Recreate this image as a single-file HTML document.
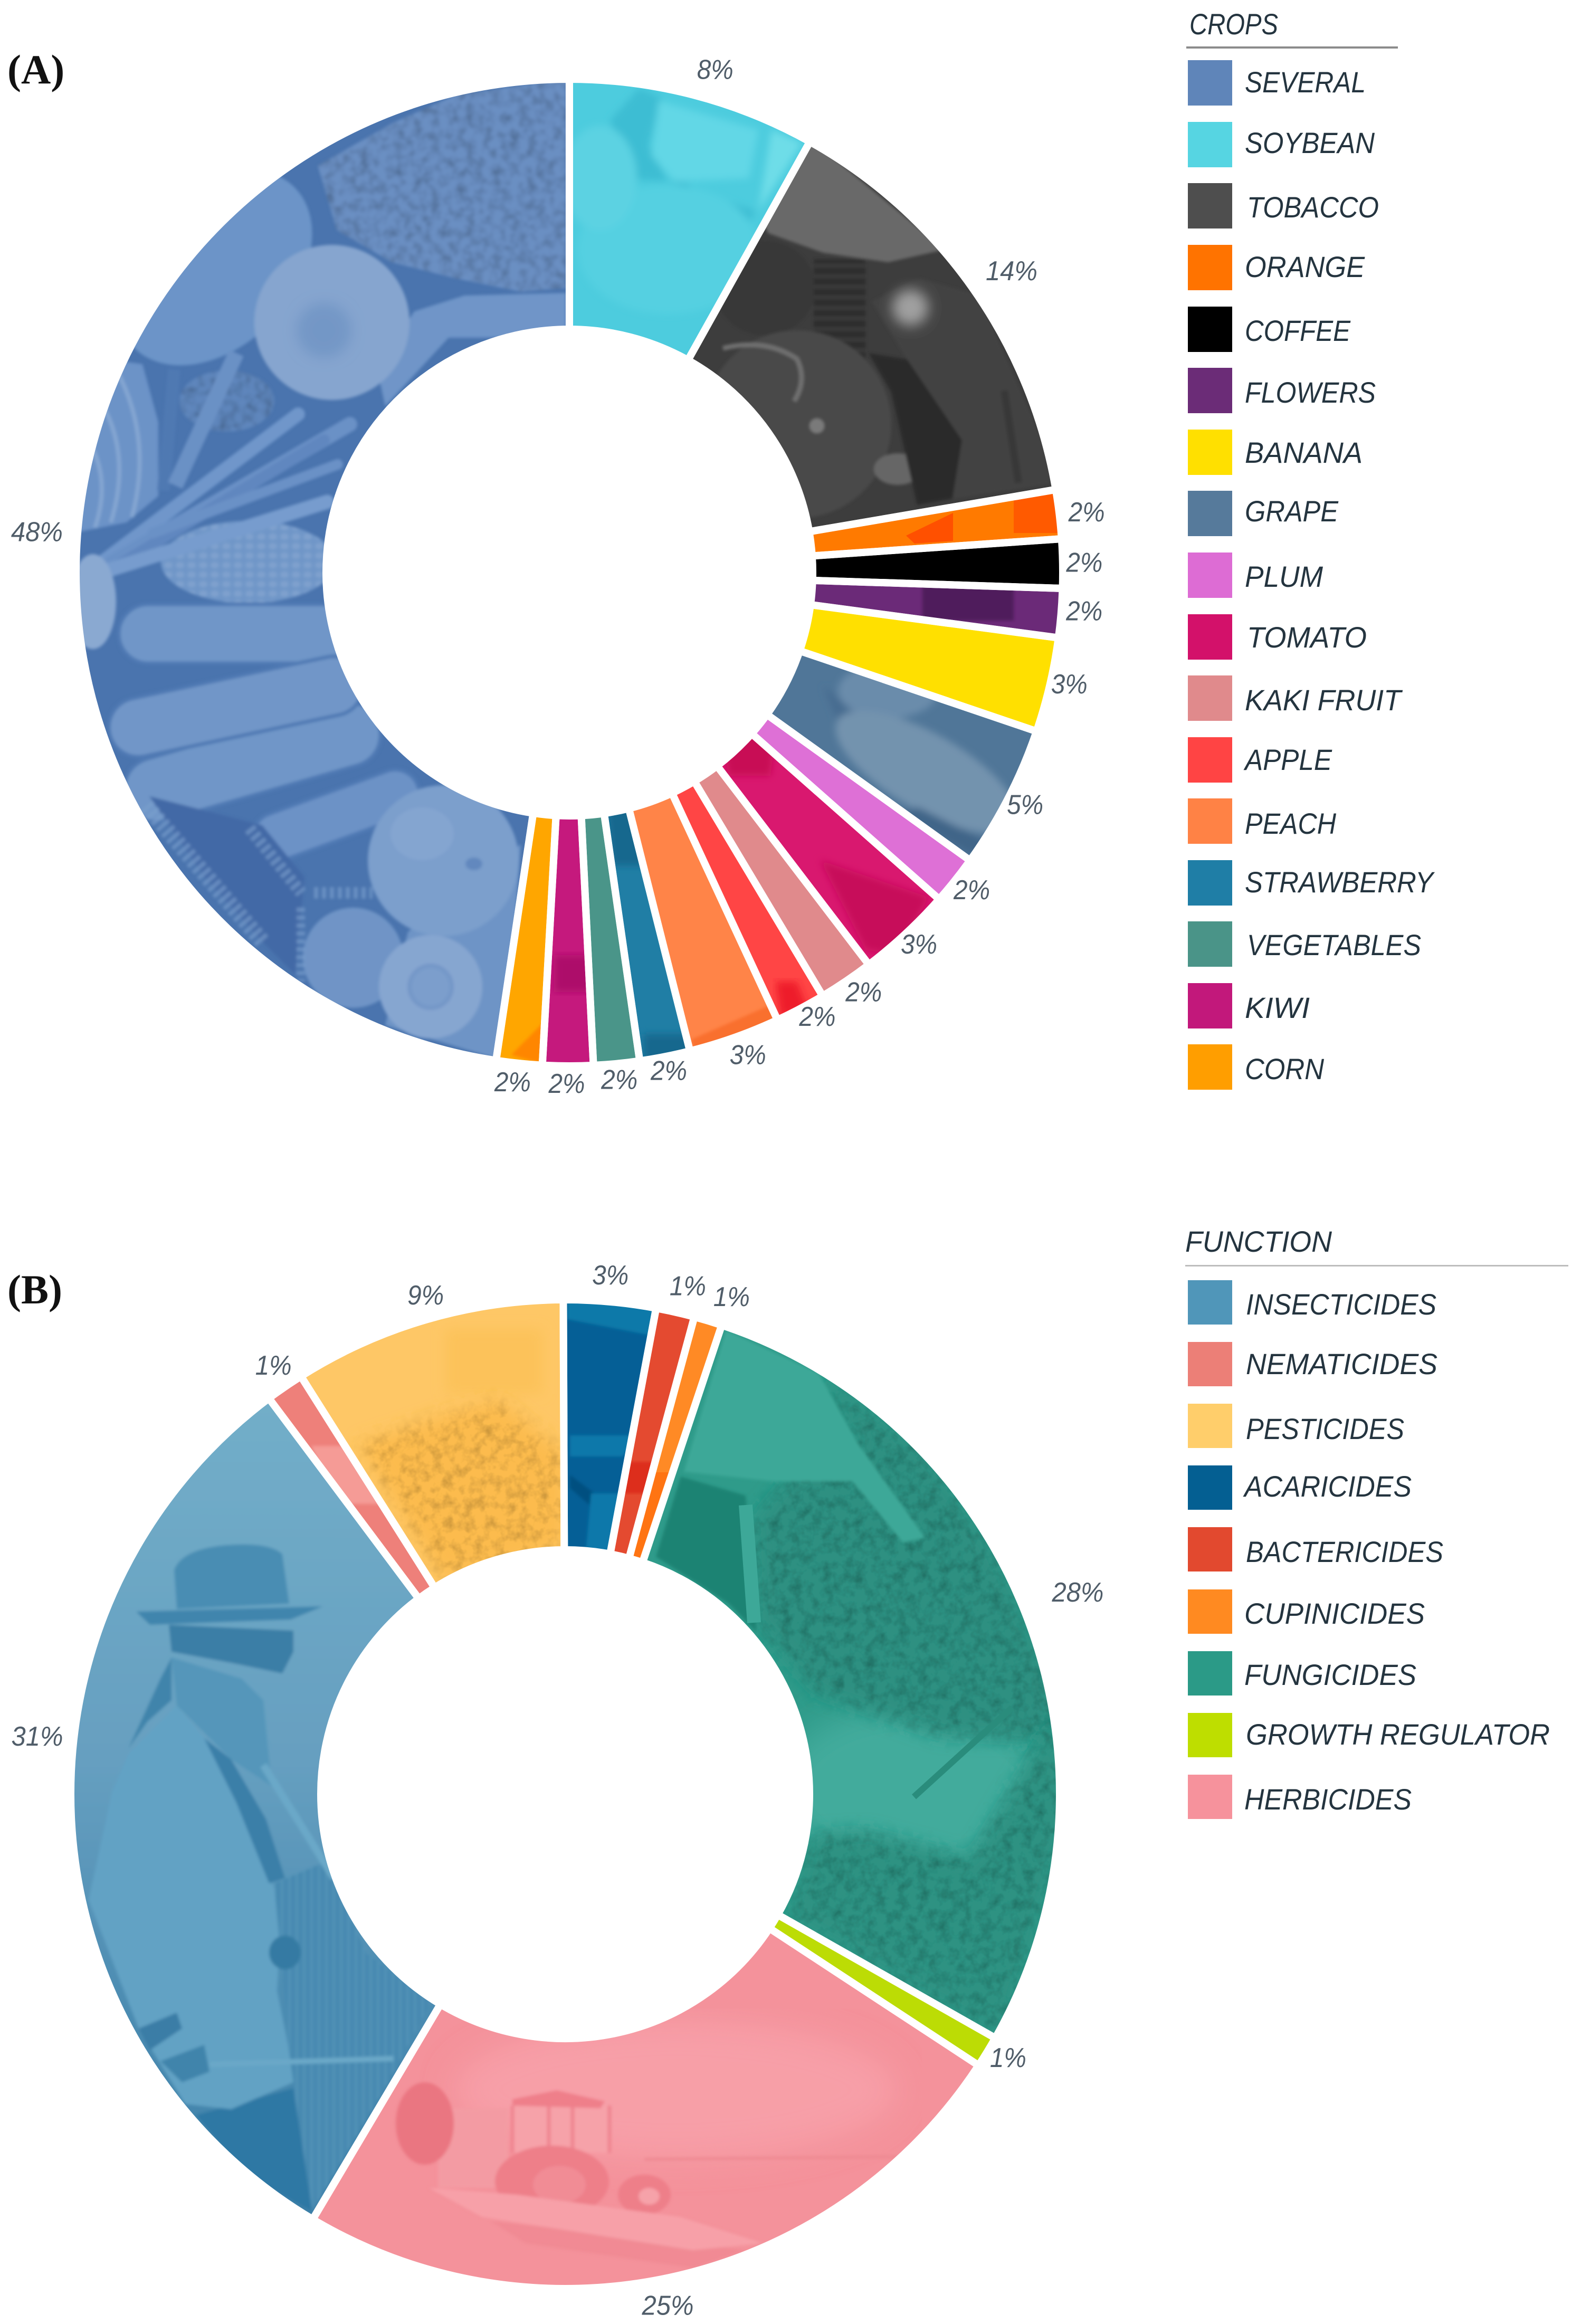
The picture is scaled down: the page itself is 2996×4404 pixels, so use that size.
<!DOCTYPE html>
<html lang="en">
<head>
<meta charset="utf-8">
<title>Crops and function donut charts</title>
<style>
html,body{margin:0;padding:0;background:#fff;}
svg{display:block;}
.lg{font-family:"Liberation Sans",sans-serif;font-style:italic;font-size:56px;fill:#24343f;}
.pct{font-family:"Liberation Sans",sans-serif;font-style:italic;font-size:52px;fill:#505d69;}
.panel{font-family:"Liberation Serif",serif;font-weight:bold;font-size:78px;fill:#111;}
</style>
</head>
<body>
<svg id="root" xmlns="http://www.w3.org/2000/svg" width="2996" height="4404" viewBox="0 0 2996 4404">
<defs>
  <filter id="soft" x="-5%" y="-5%" width="110%" height="110%"><feGaussianBlur stdDeviation="3"/></filter>
  <filter id="soft6" x="-10%" y="-10%" width="120%" height="120%"><feGaussianBlur stdDeviation="7"/></filter>
  <filter id="soft12" x="-50%" y="-50%" width="200%" height="200%"><feGaussianBlur stdDeviation="12"/></filter>
  <filter id="soft30" x="-30%" y="-30%" width="160%" height="160%"><feGaussianBlur stdDeviation="30"/></filter>
  <filter id="grain" x="0" y="0" width="100%" height="100%">
    <feTurbulence type="fractalNoise" baseFrequency="0.06" numOctaves="3" seed="4" result="n"/>
    <feColorMatrix in="n" type="matrix" values="0 0 0 0 0  0 0 0 0 0  0 0 0 0 0  0.9 0 0 0 -0.36" result="d"/>
    <feComposite in="d" in2="SourceGraphic" operator="in" result="dk"/>
    <feMerge><feMergeNode in="SourceGraphic"/><feMergeNode in="dk"/></feMerge>
  </filter>
  <filter id="grainsoft" x="-8%" y="-8%" width="116%" height="116%">
    <feGaussianBlur in="SourceGraphic" stdDeviation="16" result="b"/>
    <feTurbulence type="fractalNoise" baseFrequency="0.05" numOctaves="3" seed="9" result="n"/>
    <feColorMatrix in="n" type="matrix" values="0 0 0 0 0  0 0 0 0 0  0 0 0 0 0  0.8 0 0 0 -0.33" result="d"/>
    <feComposite in="d" in2="b" operator="in" result="dk"/>
    <feMerge><feMergeNode in="b"/><feMergeNode in="dk"/></feMerge>
  </filter>
  <pattern id="cornp" width="22" height="18" patternUnits="userSpaceOnUse"><rect width="22" height="18" fill="#7096c8"/><ellipse cx="11" cy="9" rx="8" ry="6" fill="#7fa1ce"/></pattern>
  <pattern id="stripeh" width="10" height="20" patternUnits="userSpaceOnUse"><rect width="10" height="20" fill="#2d2d2d"/><rect width="10" height="7" fill="#3b3b3b"/></pattern>
  <pattern id="stripev" width="14" height="20" patternUnits="userSpaceOnUse"><rect width="14" height="20" fill="#4689b0"/><rect width="5" height="20" fill="#5293b8"/></pattern>
  <linearGradient id="manbg" x1="0" y1="2650" x2="0" y2="4180" gradientUnits="userSpaceOnUse">
    <stop offset="0" stop-color="#72aec9"/><stop offset=".45" stop-color="#669fc0"/><stop offset=".7" stop-color="#508fb4"/><stop offset="1" stop-color="#3c80a8"/>
  </linearGradient>

  <g id="tex-several" filter="url(#soft)">
    <ellipse cx="406" cy="507" rx="215" ry="150" transform="rotate(-45 406 507)" fill="#6c94c8"/>
    <polygon points="602,314 742,234 865,179 1073,150 1073,546 987,553 865,528 742,497 638,436" fill="#6a8fc2" filter="url(#grain)"/>
    <polygon points="785,590 880,560 1073,555 1073,640 850,640 730,770 715,700" fill="#6f95c8"/>
    <ellipse cx="430" cy="760" rx="90" ry="58" fill="#5f86bc" filter="url(#grain)"/>
    <polygon points="200,680 270,690 300,800 300,940 240,990 140,1010 140,900" fill="#6c93c7"/>
    <path d="M220 700 Q290 830 250 980 M190 760 Q250 860 210 990 M170 840 Q210 910 180 1000" fill="none" stroke="#84a6d1" stroke-width="8"/>
    <line x1="330" y1="700" x2="310" y2="930" stroke="#5079b2" stroke-width="24"/>
    <line x1="332" y1="920" x2="448" y2="669" stroke="#6a91c5" stroke-width="30"/>
    <ellipse cx="470" cy="1065" rx="165" ry="78" fill="url(#cornp)"/>
    <g stroke-linecap="round" fill="none">
      <line x1="191" y1="1067" x2="565" y2="785" stroke="#6f96ca" stroke-width="26"/>
      <line x1="210" y1="1067" x2="663" y2="804" stroke="#6a91c6" stroke-width="28"/>
      <line x1="222" y1="1073" x2="614" y2="834" stroke="#6087bf" stroke-width="22"/>
      <line x1="191" y1="1085" x2="620" y2="951" stroke="#779cce" stroke-width="27"/>
      <line x1="290" y1="1010" x2="640" y2="880" stroke="#6a91c6" stroke-width="20"/>
    </g>
    <ellipse cx="176" cy="1140" rx="44" ry="90" fill="#8aa9d1"/>
    <g stroke="#4f79b3" stroke-width="7">
      <rect x="475" y="1495" width="330" height="92" rx="46" transform="rotate(-20 650 1552)" fill="#6c92c6"/>
      <rect x="225" y="1145" width="440" height="112" rx="56" fill="#7096c8"/>
      <rect x="229" y="1383" width="500" height="122" rx="60" transform="rotate(-16 479 1447)" fill="#7096c8"/>
      <rect x="203" y="1283" width="490" height="112" rx="56" transform="rotate(-12 448 1343)" fill="#7196c8"/>
    </g>
    <polygon points="773,1766 987,1600 957,2011 730,1943" fill="#6e94c6"/>
    <circle cx="669" cy="1815" r="95" fill="#6f94c6"/>
    <polygon points="283,1509 497,1564 577,1662 559,1846 497,1784 387,1662" fill="#4269a6"/>
    <g fill="none" stroke="#7a9ecc" stroke-dasharray="8 7" opacity=".65">
      <line x1="277" y1="1527" x2="497" y2="1784" stroke-width="30"/>
      <line x1="473" y1="1570" x2="571" y2="1692" stroke-width="22"/>
      <line x1="595" y1="1692" x2="706" y2="1692" stroke-width="22"/>
      <line x1="570" y1="1720" x2="570" y2="1860" stroke-width="16"/>
    </g>
    <circle cx="840" cy="1631" r="143" fill="#7c9fcc"/>
    <ellipse cx="800" cy="1580" rx="60" ry="50" fill="#84a5d0"/>
    <ellipse cx="898" cy="1637" rx="16" ry="12" fill="#6288be"/>
    <circle cx="816" cy="1870" r="98" fill="#86a6d0"/>
    <circle cx="816" cy="1870" r="40" fill="#7b9ecc" stroke="#7497c8" stroke-width="8"/>
    <circle cx="629" cy="611" r="147" fill="#86a5cf"/>
    <circle cx="614" cy="626" r="52" fill="#7397c6" filter="url(#soft12)"/>
  </g>

  <g id="tex-soybean" filter="url(#soft6)">
    <polygon points="1156,228 1211,167 1254,185 1229,277 1266,344 1431,399 1410,445 1300,345 1200,340" fill="#3dbdd3"/>
    <ellipse cx="1266" cy="473" rx="171" ry="122" fill="#54d0e1"/>
    <polygon points="1235,295 1248,191 1437,246 1419,338 1278,344" fill="#62d7e6"/>
    <polygon points="1462,246 1520,271 1437,400" fill="#6edde8"/>
    <ellipse cx="1137" cy="338" rx="70" ry="100" fill="#5cd2e2"/>
  </g>

  <g id="tex-tobacco" filter="url(#soft)">
    <polygon points="1520,250 1790,473 1683,497 1560,479 1456,442 1420,375" fill="#696969"/>
    <ellipse cx="1450" cy="546" rx="95" ry="90" fill="#383838"/>
    <rect x="1542" y="491" width="98" height="190" fill="url(#stripeh)"/>
    <circle cx="1511" cy="804" r="178" fill="#484848"/>
    <path d="M1370 660 Q1450 640 1510 680 Q1530 720 1505 760" fill="none" stroke="#6f6f6f" stroke-width="9"/>
    <circle cx="1548" cy="807" r="14" fill="#7a7a7a"/>
    <ellipse cx="1701" cy="889" rx="45" ry="30" fill="#666"/>
    <polygon points="1652,571 1744,528 1854,559 2010,914 1805,945 1823,834 1719,681" fill="#434343"/>
    <polygon points="1646,669 1719,681 1823,834 1805,945 1738,957 1689,743" fill="#292929"/>
    <circle cx="1725" cy="583" r="34" fill="#a0a0a0" filter="url(#soft12)"/>
    <line x1="1903" y1="740" x2="1930" y2="915" stroke="#383838" stroke-width="14"/>
  </g>

  <g id="tex-orange">
    <polygon points="1717,1015 1806,972 1806,1025 1733,1030" fill="#ff5000"/>
    <polygon points="1921,930 2030,930 2030,1010 1921,1010" fill="#ff5a00"/>
  </g>
  <g id="tex-flowers" filter="url(#soft)">
    <rect x="1748" y="1110" width="173" height="66" fill="#4f1a5c"/>
  </g>
  <g id="tex-grape" filter="url(#soft6)">
    <polygon points="1560,1300 1700,1410 1880,1480 1820,1590 1600,1400" fill="#466c90"/>
    <ellipse cx="1683" cy="1309" rx="95" ry="52" fill="#6a8cab"/>
    <ellipse cx="1756" cy="1463" rx="195" ry="72" transform="rotate(30 1756 1463)" fill="#7393ae"/>
    <polygon points="1740,1530 1880,1600 1840,1620 1700,1540" fill="#3f6588"/>
  </g>
  <g id="tex-tomato" filter="url(#soft6)">
    <polygon points="1554,1630 1760,1700 1700,1810 1640,1800" fill="#c70a5a"/>
    <polygon points="1370,1390 1470,1390 1460,1470 1380,1470" fill="#c80a55"/>
  </g>
  <g id="tex-peach" filter="url(#soft)">
    <polygon points="1310,1970 1470,1900 1490,1940 1320,2000" fill="#f96f2e"/>
  </g>
  <g id="tex-apple" filter="url(#soft6)">
    <polygon points="1470,1860 1510,1860 1530,1910 1480,1930" fill="#ee1c2a"/>
  </g>
  <g id="tex-strawberry" filter="url(#soft6)">
    <polygon points="1150,1530 1220,1530 1230,1640 1160,1640" fill="#14688e"/>
    <polygon points="1220,1960 1320,1960 1320,2010 1220,2010" fill="#14688e"/>
  </g>
  <g id="tex-kiwi" filter="url(#soft6)">
    <rect x="1050" y="1810" width="70" height="70" fill="#ad0f6a"/>
  </g>
  <g id="tex-corn" filter="url(#soft)">
    <polygon points="969,1999 1030,1937 1024,2015" fill="#ff8600"/>
  </g>

  <g id="tex-insecticides" filter="url(#soft)">
    <rect x="100" y="2600" width="1000" height="1620" fill="url(#manbg)"/>
    <polygon points="520,3569 617,3528 694,3702 817,3793 746,3926 592,4191 556,3957" fill="url(#stripev)"/>
    <polygon points="371,4008 556,3957 592,4191 463,4120" fill="#2f78a4"/>
    <polygon points="168,3600 212,3396 243,3324 335,3232 387,3294 448,3416 520,3579 530,3681 525,3773 546,3875 556,3946 438,3997 351,3987 263,3844" fill="#62a2c4"/>
    <polygon points="243,3314 304,3181 325,3141 325,3222 279,3263" fill="#3f84ab"/>
    <polygon points="325,3141 458,3181 499,3222 515,3385 438,3334 335,3232" fill="#5596ba"/>
    <polygon points="387,3294 438,3334 504,3447 540,3559 510,3569 448,3416" fill="#3b7fa8"/>
    <line x1="499" y1="3345" x2="633" y2="3559" stroke="#6aa8c8" stroke-width="14"/>
    <path d="M335 3049 L330 2975 Q345 2935 430 2928 Q510 2922 535 2945 L548 3039Z" fill="#4a8db3"/>
    <polygon points="258,3054 612,3044 551,3069 284,3079" fill="#3f85ad"/>
    <polygon points="320,3079 556,3090 556,3130 535,3171 438,3151 325,3130" fill="#3a7ea6"/>
    <polygon points="263,3844 335,3814 345,3844 284,3885" fill="#3a7da6"/>
    <polygon points="304,3906 387,3875 397,3926 345,3946" fill="#3f84ab"/>
    <ellipse cx="540" cy="3700" rx="30" ry="32" fill="#347aa3"/>
    <line x1="397" y1="3912" x2="746" y2="3901" stroke="#6ba8c8" stroke-width="10"/>
  </g>
  <g id="tex-nematicides" filter="url(#soft)">
    <polygon points="590,2740 700,2740 760,2850 640,2850" fill="#f59b96"/>
  </g>
  <g id="tex-pesticides">
    <rect x="844" y="2519" width="184" height="123" fill="#fcc25a" filter="url(#soft12)"/>
    <polygon points="680,2737 849,2680 946,2653 1069,2756 1069,2929 839,2994" fill="#fcbb4e" filter="url(#grainsoft)"/>
  </g>
  <g id="tex-acaricides" filter="url(#soft)">
    <polygon points="1075,2460 1250,2470 1230,2530 1075,2500" fill="#0879a9"/>
    <polygon points="1080,2720 1210,2720 1180,2760 1080,2760" fill="#0a78aa"/>
    <polygon points="1080,2795 1167,2860 1150,2880 1080,2820" fill="#034f80"/>
    <polygon points="1120,2830 1190,2830 1160,2940 1110,2940" fill="#0a78aa"/>
  </g>
  <g id="tex-bactericides" filter="url(#soft)">
    <rect x="1150" y="2770" width="200" height="60" fill="#dd2f1c"/>
  </g>
  <g id="tex-cupinicides">
    <rect x="1200" y="2790" width="200" height="170" fill="#ff7412"/>
  </g>
  <g id="tex-fungicides">
    <ellipse cx="1732" cy="3388" rx="255" ry="160" fill="#43ab9c" filter="url(#soft30)"/>
    <polygon points="1556,2602 1759,2754 1892,2950 1987,3164 2005,3298 1785,3290 1546,3209 1434,3075 1429,2879 1519,2771 1626,2745" fill="#2d9081" filter="url(#grainsoft)"/>
    <polygon points="1376,2521 1551,2602 1626,2736 1753,2914 1711,2923 1615,2807 1466,2807 1296,2789" fill="#3da898" filter="url(#soft)"/>
    <polygon points="1243,2950 1290,2798 1413,2834 1434,3093 1381,3039" fill="#1f8373" filter="url(#soft)"/>
    <line x1="1413" y1="2852" x2="1429" y2="3075" stroke="#3da898" stroke-width="26"/>
    <polygon points="1540,3477 1640,3470 1838,3522 1998,3254 2030,3432 1902,3870 1493,3629" fill="#2e9282" filter="url(#grainsoft)"/>
    <line x1="1732" y1="3405" x2="1918" y2="3236" stroke="#2a8c7c" stroke-width="12"/>
  </g>
  <g id="tex-herbicides" filter="url(#soft)">
    <ellipse cx="1280" cy="3960" rx="420" ry="130" fill="#f79fa7" filter="url(#soft30)"/>
    <line x1="1221" y1="4092" x2="1700" y2="4087" stroke="#ee8a93" stroke-width="6"/>
    <polygon points="830,3995 963,3995 963,4146 830,4146" fill="#f39ba3"/>
    <ellipse cx="805" cy="4024" rx="55" ry="78" fill="#ea7681"/>
    <rect x="971" y="3990" width="184" height="89" fill="#f6a2a9"/>
    <path d="M971 3990V4080M1040 3990V4080M1085 3990V4080M1155 3990V4080" stroke="#ef8590" stroke-width="7" fill="none"/>
    <polygon points="971,3978 1055,3961 1146,3982 1138,3995 971,3990" fill="#ef7f8a"/>
    <ellipse cx="1046" cy="4134" rx="108" ry="68" fill="#ee7f89"/>
    <ellipse cx="1060" cy="4140" rx="50" ry="36" fill="#f18c95"/>
    <ellipse cx="1221" cy="4159" rx="50" ry="38" fill="#ee7f89"/>
    <ellipse cx="1230" cy="4162" rx="20" ry="16" fill="#f6a2a9"/>
    <polygon points="930,4209 1413,4264 1313,4298 996,4251" fill="#ef858f" opacity=".6"/>
    <polygon points="813,4146 980,4159 1288,4201 1446,4251 1313,4264 913,4201" fill="#f7a0a8"/>
  </g>
</defs>

<text class="panel" x="14" y="158">(A)</text>
<text class="panel" x="14" y="2470">(B)</text>

<g id="chart-a"></g>
<g id="chart-b"></g>

<g>
  <text class="lg" x="2254" y="65" textLength="168" lengthAdjust="spacingAndGlyphs">CROPS</text>
  <rect x="2248" y="88" width="401" height="4" fill="#8b8b8b"/>
  <g><rect x="2251" y="114" width="84" height="86" fill="#5f85b9"/><text class="lg" x="2359" y="175" textLength="229" lengthAdjust="spacingAndGlyphs">SEVERAL</text></g>
  <g><rect x="2251" y="231" width="84" height="86" fill="#56d5e2"/><text class="lg" x="2359" y="290" textLength="246" lengthAdjust="spacingAndGlyphs">SOYBEAN</text></g>
  <g><rect x="2251" y="347" width="84" height="86" fill="#4e4e4e"/><text class="lg" x="2363" y="412" textLength="250" lengthAdjust="spacingAndGlyphs">TOBACCO</text></g>
  <g><rect x="2251" y="464" width="84" height="86" fill="#ff7300"/><text class="lg" x="2359" y="525" textLength="227" lengthAdjust="spacingAndGlyphs">ORANGE</text></g>
  <g><rect x="2251" y="581" width="84" height="86" fill="#000000"/><text class="lg" x="2359" y="646" textLength="200" lengthAdjust="spacingAndGlyphs">COFFEE</text></g>
  <g><rect x="2251" y="697" width="84" height="86" fill="#6b2c77"/><text class="lg" x="2359" y="763" textLength="248" lengthAdjust="spacingAndGlyphs">FLOWERS</text></g>
  <g><rect x="2251" y="814" width="84" height="86" fill="#ffe000"/><text class="lg" x="2359" y="877" textLength="223" lengthAdjust="spacingAndGlyphs">BANANA</text></g>
  <g><rect x="2251" y="930" width="84" height="86" fill="#567a9b"/><text class="lg" x="2359" y="988" textLength="177" lengthAdjust="spacingAndGlyphs">GRAPE</text></g>
  <g><rect x="2251" y="1047" width="84" height="86" fill="#dd6cd4"/><text class="lg" x="2359" y="1112" textLength="148" lengthAdjust="spacingAndGlyphs">PLUM</text></g>
  <g><rect x="2251" y="1164" width="84" height="86" fill="#d3116a"/><text class="lg" x="2363" y="1227" textLength="227" lengthAdjust="spacingAndGlyphs">TOMATO</text></g>
  <g><rect x="2251" y="1280" width="84" height="86" fill="#e08a8c"/><text class="lg" x="2359" y="1346" textLength="296" lengthAdjust="spacingAndGlyphs">KAKI FRUIT</text></g>
  <g><rect x="2251" y="1397" width="84" height="86" fill="#ff4444"/><text class="lg" x="2359" y="1459" textLength="165" lengthAdjust="spacingAndGlyphs">APPLE</text></g>
  <g><rect x="2251" y="1513" width="84" height="86" fill="#ff8245"/><text class="lg" x="2359" y="1580" textLength="173" lengthAdjust="spacingAndGlyphs">PEACH</text></g>
  <g><rect x="2251" y="1630" width="84" height="86" fill="#1f7ea6"/><text class="lg" x="2359" y="1691" textLength="357" lengthAdjust="spacingAndGlyphs">STRAWBERRY</text></g>
  <g><rect x="2251" y="1746" width="84" height="86" fill="#4a9488"/><text class="lg" x="2363" y="1810" textLength="330" lengthAdjust="spacingAndGlyphs">VEGETABLES</text></g>
  <g><rect x="2251" y="1863" width="84" height="86" fill="#c2187b"/><text class="lg" x="2359" y="1929" textLength="123" lengthAdjust="spacingAndGlyphs">KIWI</text></g>
  <g><rect x="2251" y="1979" width="84" height="86" fill="#ff9e00"/><text class="lg" x="2359" y="2045" textLength="150" lengthAdjust="spacingAndGlyphs">CORN</text></g>
</g>

<g>
  <text class="lg" x="2246" y="2372" textLength="278" lengthAdjust="spacingAndGlyphs">FUNCTION</text>
  <rect x="2246" y="2397" width="726" height="3" fill="#bdbdbd"/>
  <g><rect x="2251" y="2426" width="84" height="84" fill="#5096b9"/><text class="lg" x="2361" y="2491" textLength="361" lengthAdjust="spacingAndGlyphs">INSECTICIDES</text></g>
  <g><rect x="2251" y="2543" width="84" height="84" fill="#ec7f77"/><text class="lg" x="2361" y="2604" textLength="363" lengthAdjust="spacingAndGlyphs">NEMATICIDES</text></g>
  <g><rect x="2251" y="2660" width="84" height="84" fill="#ffce6b"/><text class="lg" x="2361" y="2727" textLength="300" lengthAdjust="spacingAndGlyphs">PESTICIDES</text></g>
  <g><rect x="2251" y="2777" width="84" height="84" fill="#045f92"/><text class="lg" x="2358" y="2836" textLength="317" lengthAdjust="spacingAndGlyphs">ACARICIDES</text></g>
  <g><rect x="2251" y="2894" width="84" height="84" fill="#e2492f"/><text class="lg" x="2361" y="2960" textLength="374" lengthAdjust="spacingAndGlyphs">BACTERICIDES</text></g>
  <g><rect x="2251" y="3012" width="84" height="84" fill="#ff8a21"/><text class="lg" x="2358" y="3077" textLength="342" lengthAdjust="spacingAndGlyphs">CUPINICIDES</text></g>
  <g><rect x="2251" y="3129" width="84" height="84" fill="#2b9a87"/><text class="lg" x="2358" y="3193" textLength="326" lengthAdjust="spacingAndGlyphs">FUNGICIDES</text></g>
  <g><rect x="2251" y="3246" width="84" height="84" fill="#bede00"/><text class="lg" x="2361" y="3306" textLength="576" lengthAdjust="spacingAndGlyphs">GROWTH REGULATOR</text></g>
  <g><rect x="2251" y="3363" width="84" height="84" fill="#f6929c"/><text class="lg" x="2358" y="3429" textLength="317" lengthAdjust="spacingAndGlyphs">HERBICIDES</text></g>
</g>
</svg>

<script>
const cropCategories = ['several','soybean','tobacco','orange','coffee','flowers','banana','grape','plum','tomato','kaki-fruit','apple','peach','strawberry','vegetables','kiwi','corn'];
const cropValues = [47.6,8.1,14.2,1.6,1.6,1.6,3.1,4.7,1.6,3.1,1.8,1.65,3.0,1.65,1.5,1.65,1.5];
const cropLabels = ['48%','8%','14%','2%','2%','2%','3%','5%','2%','3%','2%','2%','3%','2%','2%','2%','2%'];
const cropColors = ['#4a74ae','#4dccde','#3d3d3d','#ff7a00','#000000','#6b2a78','#ffe000','#507698','#de70d6','#d9186f','#e08a8c','#ff4545','#ff8448','#207ea5','#4a9589','#c5197d','#ffa600'];

const functionCategories = ['insecticides','nematicides','pesticides','acaricides','bactericides','cupinicides','fungicides','growth-regulator','herbicides'];
const functionValues = [31.2,1.25,8.9,3.0,1.26,0.92,28.04,1.03,24.25];
const functionLabels = ['31%','1%','9%','3%','1%','1%','28%','1%','25%'];
const functionColors = ['#5c9fc1','#ee807a','#fec766','#055f96','#e44a30','#ff8a25','#2f9b8a','#bcdc05','#f4929b'];

const NS = 'http://www.w3.org/2000/svg';
const GAP = 14;

function mk(tag, attrs, parent) {
  const el = document.createElementNS(NS, tag);
  for (const k in attrs) el.setAttribute(k, attrs[k]);
  parent.appendChild(el);
  return el;
}

function drawDonut(host, defs, o, categories, values, labels, colors) {
  const total = values.reduce((a, b) => a + b, 0);
  const toAngle = v => v / total * 360;
  const pt = (deg, rad) => {
    const t = deg * Math.PI / 180;
    return [o.cx + rad * Math.sin(t), o.cy - rad * Math.cos(t)];
  };
  const outer = o.R + GAP / 2;
  const inner = o.r - GAP / 2;
  const strokes = [];
  let a0 = o.start;
  values.forEach((v, i) => {
    const a1 = a0 + toAngle(v);
    const large = a1 - a0 > 180 ? 1 : 0;
    const p0 = pt(a0, outer), p1 = pt(a1, outer), p2 = pt(a1, inner), p3 = pt(a0, inner);
    const d = 'M' + p0[0] + ' ' + p0[1] + 'A' + outer + ' ' + outer + ' 0 ' + large + ' 1 ' + p1[0] + ' ' + p1[1] +
      'L' + p2[0] + ' ' + p2[1] + 'A' + inner + ' ' + inner + ' 0 ' + large + ' 0 ' + p3[0] + ' ' + p3[1] + 'Z';
    const cid = 'clip-' + categories[i];
    const clip = mk('clipPath', { id: cid }, defs);
    mk('path', { d: d }, clip);
    const g = mk('g', { 'clip-path': 'url(#' + cid + ')' }, host);
    
    
    const slice = mk('path', { d: d, fill: colors[i] }, g);
    
    
    if (document.getElementById('tex-' + categories[i])) {
      const tex = mk('use', { href: '#tex-' + categories[i] }, g);
      
      
    }
    strokes.push(d);
    const mid = (a0 + a1) / 2;
    const wide = labels[i].length > 2;
    const off = 50 + (wide ? 35 * Math.abs(Math.sin(mid * Math.PI / 180)) : 0);
    const lp = pt(mid, o.R + off);
    const nudge = o.nudge[categories[i]] || { x: 0, y: 0 };
    const t = mk('text', {
      class: 'pct', x: lp[0] + nudge.x, y: lp[1] + nudge.y + 18, 'text-anchor': 'middle',
      textLength: wide ? 98 : 69, lengthAdjust: 'spacingAndGlyphs'
    }, o.labelLayer);
    
    
    t.textContent = labels[i];
    a0 = a1;
  });
  strokes.forEach((d, i) => {
    const s = mk('path', { d: d, fill: 'none', stroke: '#ffffff', 'stroke-width': GAP, 'stroke-linejoin': 'miter' }, host);
    
    
  });
  host.appendChild(o.labelLayer);
}

const svgDefs = document.querySelector('#root defs');
const hostA = document.getElementById('chart-a');
const hostB = document.getElementById('chart-b');
const labelsA = document.createElementNS(NS, 'g');


const labelsB = document.createElementNS(NS, 'g');



const layoutA = {
  cx: 1079, cy: 1085, R: 928, r: 468, start: 188.55, labelLayer: labelsA,
  nudge: {
    several: { x: 1, y: -2 }, soybean: { x: 30, y: -7 }, tobacco: { x: 16, y: 9 }, orange: { x: 9, y: 1 },
    coffee: { x: -2, y: -2 }, flowers: { x: 1, y: -8 }, banana: { x: -5, y: -12 }, grape: { x: -6, y: -8 }, plum: { x: -2, y: -9 },
    tomato: { x: -4, y: -12 }, 'kaki-fruit': { x: 9, y: -15 }, apple: { x: 12, y: -23 }, peach: { x: 11, y: -8 },
    strawberry: { x: -1, y: -16 }, vegetables: { x: 1, y: -13 }, kiwi: { x: -2, y: -10 }, corn: { x: -8, y: -8 }
  }
};
const layoutB = {
  cx: 1071, cy: 3400, R: 930, r: 470, start: 210.7, labelLayer: labelsB,
  nudge: {
    insecticides: { x: 13, y: -164 }, nematicides: { x: 3, y: -6 }, pesticides: { x: 10, y: -5 }, acaricides: { x: -3, y: -8 },
    bactericides: { x: 14, y: -8 }, cupinicides: { x: 32, y: -5 }, fungicides: { x: 26, y: -20 },
    'growth-regulator': { x: 3, y: -12 }, herbicides: { x: -28, y: 6 }
  }
};
drawDonut(hostA, svgDefs, layoutA, cropCategories, cropValues, cropLabels, cropColors);
drawDonut(hostB, svgDefs, layoutB, functionCategories, functionValues, functionLabels, functionColors);
</script>
</body>
</html>
